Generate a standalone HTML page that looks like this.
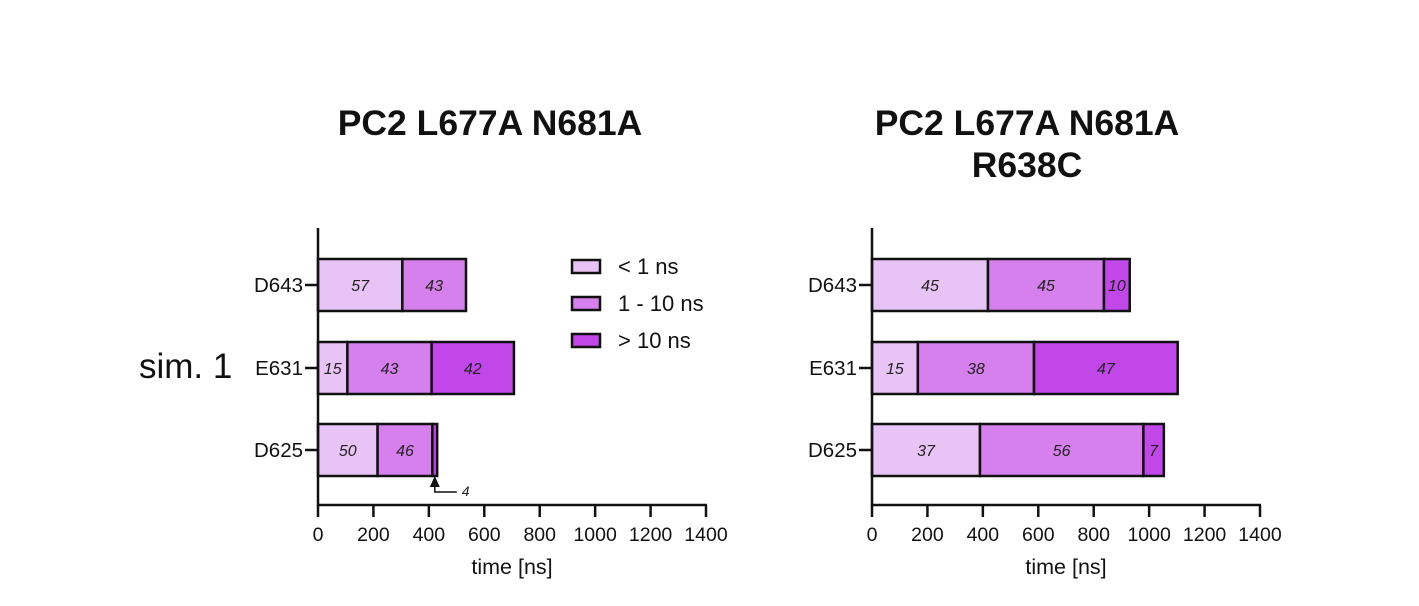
<!DOCTYPE html>
<html><head><meta charset="utf-8"><style>
body{margin:0;background:#fff;}
svg{display:block;font-family:"Liberation Sans",sans-serif;}
</style></head><body>
<svg id="c" width="1419" height="606"></svg>
<script>
const categories=["D643","E631","D625"];
const totalsA=[534,707,430];
const pctA=[[57,43,0],[15,43,42],[50,46,4]];
const totalsB=[930,1103,1053];
const pctB=[[45,45,10],[15,38,47],[37,56,7]];
const ticks=[0,200,400,600,800,1000,1200,1400];
const legendLabels=["< 1 ns","1 - 10 ns"," > 10 ns"];
const colors=["#e8c4f6","#d580ec","#c147e9"];
const NS="http://www.w3.org/2000/svg";
const svg=document.getElementById('c');
function mk(t,a,p){const e=document.createElementNS(NS,t);for(const k in a)e.setAttribute(k,a[k]);(p||svg).appendChild(e);return e;}
function txt(s,a,p){const e=mk('text',a,p);e.textContent=s;return e;}
const catY=[285,368,450];
function panel(x0,totals,pct,name,showSmall){
  const g=mk('g',{});
  
  
  const sx=v=>x0+v*(388/1400);
  const axisY=505;
  categories.forEach((c,i)=>{
    let acc=0;
    const y=catY[i];
    pct[i].forEach((p,j)=>{
      if(p<=0)return;
      const w=totals[i]*p/100;
      const r=mk('rect',{x:sx(acc),y:y-26,width:sx(acc+w)-sx(acc),height:52,fill:colors[j],stroke:'#111','stroke-width':2.5},g);
      
      
      const cx=sx(acc+w/2);
      if(sx(acc+w)-sx(acc)>10){
        const t=txt(String(p),{x:cx,y:y+6,'font-size':16,'font-style':'italic','text-anchor':'middle',fill:'#222'},g);
        
        
      } else if(showSmall){
        const ex=sx(acc+w/2);
        mk('path',{d:`M${ex} ${y+36} L${ex} ${y+42} L${ex+22} ${y+42}`,stroke:'#111','stroke-width':1.5,fill:'none'},g);
        mk('path',{d:`M${ex} ${y+26} L${ex-5} ${y+37} L${ex+5} ${y+37}Z`,fill:'#111'},g);
        const t=txt(String(p),{x:ex+27,y:y+46,'font-size':14,'font-style':'italic',fill:'#222'},g);
        
        
      }
      acc+=w;
    });
    mk('line',{x1:x0-13,x2:x0,y1:y,y2:y,stroke:'#111','stroke-width':2.5},g);
    const l=txt(c,{x:x0-15,y:y+7,'font-size':20.5,'text-anchor':'end',fill:'#111'},g);
    
    
  });
  mk('line',{x1:x0,x2:x0,y1:228,y2:axisY+1,stroke:'#111','stroke-width':2.5},g);
  mk('line',{x1:x0-1,x2:sx(1400)+1,y1:axisY,y2:axisY,stroke:'#111','stroke-width':2.5},g);
  ticks.forEach(t=>{
    mk('line',{x1:sx(t),x2:sx(t),y1:axisY,y2:axisY+12,stroke:'#111','stroke-width':2.5},g);
    const l=txt(String(t),{x:sx(t),y:541,'font-size':19.5,'text-anchor':'middle',fill:'#111'},g);
    
    
  });
  const xt=txt('time [ns]',{x:sx(700),y:574,'font-size':21.5,'text-anchor':'middle',fill:'#111'},g);
  
  
}
panel(318,totalsA,pctA,'panel-left',true);
panel(872,totalsB,pctB,'panel-right',true);
let t=txt('PC2 L677A N681A',{x:490,y:135,'font-size':35.5,'font-weight':'bold','text-anchor':'middle',fill:'#111'});

t=txt('PC2 L677A N681A',{x:1027,y:135,'font-size':35.5,'font-weight':'bold','text-anchor':'middle',fill:'#111'});

t=txt('R638C',{x:1027,y:177,'font-size':35.5,'font-weight':'bold','text-anchor':'middle',fill:'#111'});

t=txt('sim. 1',{x:139,y:378,'font-size':35,fill:'#111'});

const legY=[260,297,334];
legendLabels.forEach((s,i)=>{
  const r=mk('rect',{x:572,y:legY[i],width:28,height:13,fill:colors[i],stroke:'#111','stroke-width':2.5});
  
  
  const l=txt(s,{x:618,y:legY[i]+14,'font-size':22,fill:'#111','xml:space':'preserve'});
  
  
});
</script>
</body></html>
